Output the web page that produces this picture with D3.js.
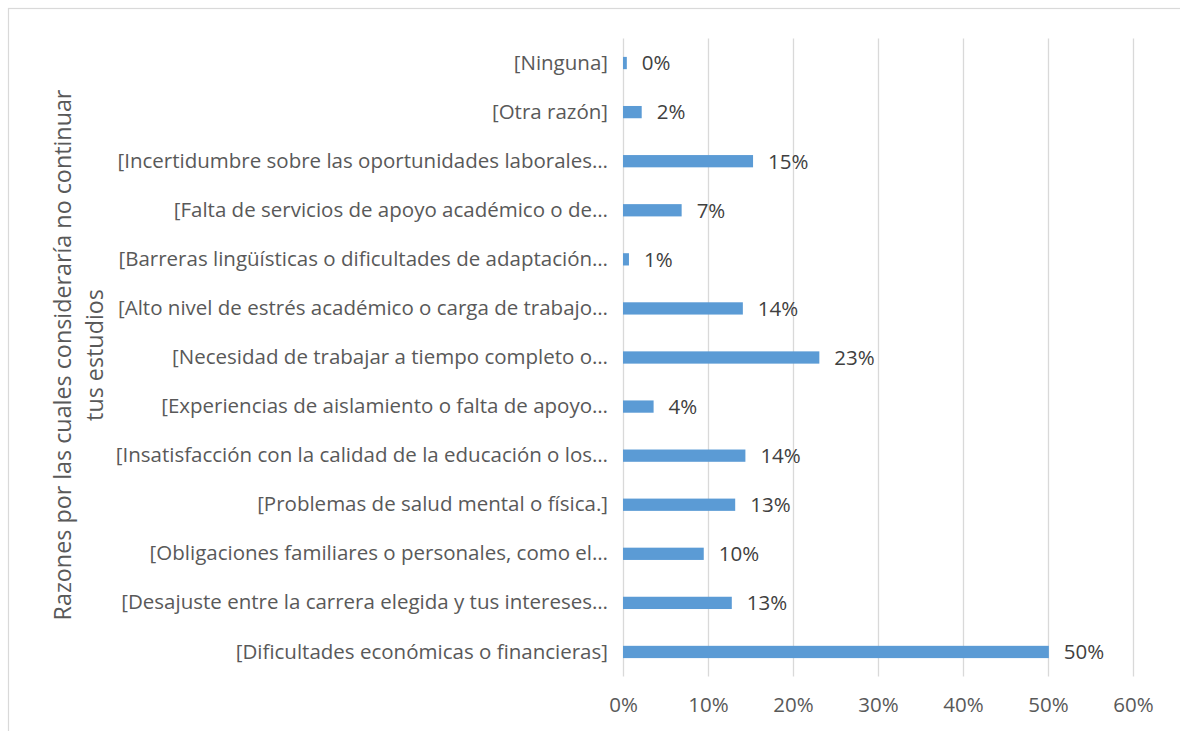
<!DOCTYPE html>
<html>
<head>
<meta charset="utf-8">
<script src="https://cdn.jsdelivr.net/npm/d3@7"></script>
<style>
  body { margin: 0; background: #fff; }
  text { font-family: "Open Sans", Lato, sans-serif; }
</style>
</head>
<body>
<svg id="chart" width="1180" height="731"></svg>
<script>
// categories, top to bottom as drawn
var categories = [
  "[Ninguna]",
  "[Otra razón]",
  "[Incertidumbre sobre las oportunidades laborales…",
  "[Falta de servicios de apoyo académico o de…",
  "[Barreras lingüísticas o dificultades de adaptación…",
  "[Alto nivel de estrés académico o carga de trabajo…",
  "[Necesidad de trabajar a tiempo completo o…",
  "[Experiencias de aislamiento o falta de apoyo…",
  "[Insatisfacción con la calidad de la educación o los…",
  "[Problemas de salud mental o física.]",
  "[Obligaciones familiares o personales, como el…",
  "[Desajuste entre la carrera elegida y tus intereses…",
  "[Dificultades económicas o financieras]"
];
var values = [0.0045, 0.022, 0.153, 0.069, 0.007, 0.141, 0.231, 0.036, 0.144, 0.132, 0.095, 0.128, 0.501];
var tickValues = [0, 0.1, 0.2, 0.3, 0.4, 0.5, 0.6];
var axisTitle = ["Razones por las cuales consideraría no continuar", "tus estudios"];

var svg = d3.select("#chart");
var margin = { left: 623, right: 47, top: 38.5, bottom: 54.5 };
var width = 1180 - margin.left - margin.right;
var height = 731 - margin.top - margin.bottom;

// chart area border
svg.append("rect")
    .attr("x", 8.5).attr("y", 8.5)
    .attr("width", 1200).attr("height", 800)
    .attr("fill", "none")
    .attr("stroke", "#d9d9d9")
    .attr("stroke-width", 1.2);

var g = svg.append("g").attr("transform", "translate(" + margin.left + "," + margin.top + ")");

var x = d3.scaleLinear().domain([0, 0.6]).range([0, width]);
var y = d3.scaleBand().domain(categories).range([0, height]).paddingInner(0.75).paddingOuter(0.375);

// gridlines
g.selectAll(".grid")
    .data(tickValues)
    .enter().append("line")
    .attr("class", "grid")
    .attr("x1", function (d) { return Math.round(x(d)) + 0.5; })
    .attr("x2", function (d) { return Math.round(x(d)) + 0.5; })
    .attr("y1", 0)
    .attr("y2", height)
    .attr("stroke", "#d9d9d9")
    .attr("stroke-width", 1.3);

// x axis labels
var xAxis = d3.axisBottom(x)
    .tickValues(tickValues)
    .tickFormat(d3.format(".0%"))
    .tickSize(0)
    .tickPadding(21);
var xg = g.append("g").attr("transform", "translate(0," + height + ")").call(xAxis);
xg.select(".domain").remove();
xg.selectAll("text")
    .attr("fill", "#595959")
    .style("font-size", "20.5px");

// bars
g.selectAll(".bar")
    .data(values)
    .enter().append("rect")
    .attr("class", "bar")
    .attr("x", x(0))
    .attr("y", function (d, i) { return y(categories[i]); })
    .attr("width", function (d) { return x(d) - x(0); })
    .attr("height", y.bandwidth())
    .attr("fill", "#5b9bd5");

// data labels
g.selectAll(".lbl")
    .data(values)
    .enter().append("text")
    .attr("class", "lbl")
    .attr("x", function (d) { return x(d) + 15; })
    .attr("y", function (d, i) { return y(categories[i]) + y.bandwidth() / 2; })
    .attr("dy", "0.36em")
    .attr("fill", "#404040")
    .style("font-size", "20.5px")
    .text(function (d) { return d3.format(".0%")(d); });

// category labels
var yAxis = d3.axisLeft(y).tickSize(0).tickPadding(15);
var yg = g.append("g").call(yAxis);
yg.select(".domain").remove();
yg.selectAll("text")
    .attr("fill", "#595959")
    .style("font-size", "20.5px");

// axis title
var title = svg.append("text")
    .attr("transform", "translate(63,355) rotate(-90)")
    .attr("text-anchor", "middle")
    .attr("fill", "#595959")
    .style("font-size", "23.3px");
title.selectAll("tspan")
    .data(axisTitle)
    .enter().append("tspan")
    .attr("x", 0)
    .attr("dy", function (d, i) { return i === 0 ? "0.35em" : "1.38em"; })
    .text(function (d) { return d; });
</script>
</body>
</html>
